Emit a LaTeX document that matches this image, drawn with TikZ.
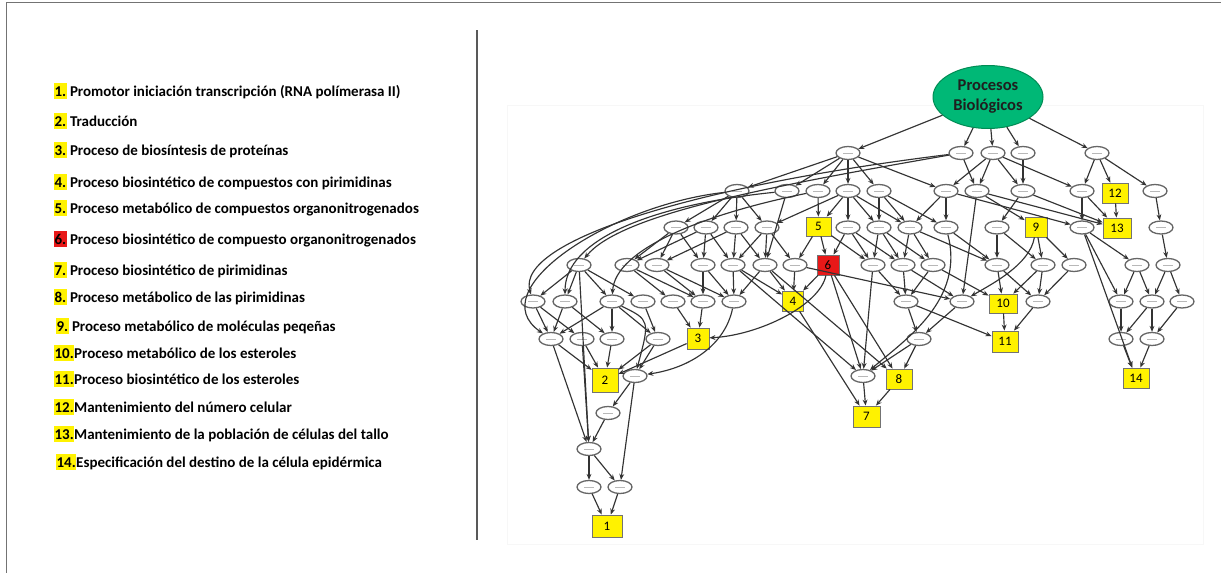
\documentclass[tikz,border=0pt]{standalone}
\usepackage{fontspec}
\setmainfont{Carlito}
\usetikzlibrary{shapes.geometric,arrows.meta}
\definecolor{rootfill}{RGB}{0,184,118}
\definecolor{rootline}{RGB}{0,140,84}
\definecolor{hlred}{RGB}{232,24,24}
\newcommand\hlnum[2][yellow]{{\setlength{\fboxsep}{0.4pt}\colorbox{#1}{\vphantom{Ép}#2}}}
\begin{document}
\begin{tikzpicture}[x=1pt,y=-1pt,
  leg/.style={anchor=base west,inner sep=0pt,font=\bfseries\fontsize{15}{17}\selectfont},
  gn/.style={ellipse,draw=black!60,line width=1.3pt,minimum width=24pt,minimum height=13pt,inner sep=0pt,
    path picture={\draw[black!28,line width=0.5pt]
      ([xshift=-5pt]path picture bounding box.center) -- ([xshift=5pt]path picture bounding box.center);}},
  yb/.style={rectangle,fill=yellow,draw=black!55,line width=0.8pt,inner sep=0pt,
    minimum width=25pt,minimum height=20pt,font=\fontsize{13}{14}\selectfont},
  rb/.style={yb,fill=hlred},
  edge/.style={draw=black!80,line width=1.15pt,-{Stealth[length=6pt,width=4.8pt]}}]
\useasboundingbox (0,0) rectangle (1221,573);
\fill[white] (0,0) rectangle (1221,573);
% frame and divider
\draw[black!55,line width=0.8pt] (6,573) -- (6,2) -- (1221,2);
\draw[black!65,line width=1.6pt] (477,30) -- (477,540);
\draw[black!3,line width=0.6pt] (507,105) rectangle (1203,544);

% legend
\node[leg] (l1)  at (54,96)  {\hlnum{1.} Promotor iniciación transcripción (RNA polímerasa II)};
\node[leg] (l2)  at (54,126) {\hlnum{2.} Traducción};
\node[leg] (l3)  at (54,155) {\hlnum{3.} Proceso de biosíntesis de proteínas};
\node[leg] (l4)  at (54,187) {\hlnum{4.} Proceso biosintético de compuestos con pirimidinas};
\node[leg] (l5)  at (54,213) {\hlnum{5.} Proceso metabólico de compuestos organonitrogenados};
\node[leg] (l6)  at (54,244) {\hlnum[hlred]{6.} Proceso biosintético de compuesto organonitrogenados};
\node[leg] (l7)  at (54,275) {\hlnum{7.} Proceso biosintético de pirimidinas};
\node[leg] (l8)  at (54,302) {\hlnum{8.} Proceso metábolico de las pirimidinas};
\node[leg] (l9)  at (56,331) {\hlnum{9.} Proceso metabólico de moléculas peqeñas};
\node[leg] (l10) at (54,358) {\hlnum{10.}Proceso metabólico de los esteroles};
\node[leg] (l11) at (54,384) {\hlnum{11.}Proceso biosintético de los esteroles};
\node[leg] (l12) at (54,412) {\hlnum{12.}Mantenimiento del número celular};
\node[leg] (l13) at (54,439) {\hlnum{13.}Mantenimiento de la población de células del tallo};
\node[leg] (l14) at (56,467) {\hlnum{14.}Especificación del destino de la célula epidérmica};

% root
\node[ellipse,fill=rootfill,draw=rootline,line width=1pt,minimum width=110pt,minimum height=63pt,
  align=center,inner sep=0pt,font=\bfseries\fontsize{16.5}{20}\selectfont,text=black!88] (root) at (988,97) {Procesos\\Biológicos};

% row 1
\node[gn] (a1) at (848,153) {};
\node[gn] (a2) at (961,153) {};
\node[gn] (a3) at (993,153) {};
\node[gn] (a4) at (1023,153) {};
\node[gn] (a5) at (1097,153) {};
% row 2
\node[gn] (b1) at (737,191) {};
\node[gn] (b2) at (787,191) {};
\node[gn] (b3) at (818,191) {};
\node[gn] (b4) at (848,191) {};
\node[gn] (b5) at (879,191) {};
\node[gn] (b6) at (946,191) {};
\node[gn] (b7) at (977,191) {};
\node[gn] (b8) at (1023,191) {};
\node[gn] (b9) at (1082,191) {};
\node[yb,minimum width=26pt] (n12) at (1115,193) {12};
\node[gn] (b10) at (1155,191) {};
% row 3
\node[gn] (c1) at (676,227.5) {};
\node[gn] (c2) at (706,227.5) {};
\node[gn] (c3) at (736,227.5) {};
\node[gn] (c4) at (767,227.5) {};
\node[yb,minimum height=19pt] (n5) at (818.5,226.5) {5};
\node[gn] (c5) at (848,227.5) {};
\node[gn] (c6) at (879,227.5) {};
\node[gn] (c7) at (910,227.5) {};
\node[gn] (c8) at (946,227.5) {};
\node[gn] (c9) at (997,227.5) {};
\node[yb,minimum width=22pt] (n9) at (1036,227) {9};
\node[gn] (c10) at (1082,227.5) {};
\node[yb,minimum width=28pt] (n13) at (1117,228) {13};
\node[gn] (c11) at (1161,227.5) {};
% row 4
\node[gn] (d1) at (579,265) {};
\node[gn] (d2) at (627,265) {};
\node[gn] (d3) at (657,265) {};
\node[gn] (d4) at (703,265) {};
\node[gn] (d5) at (733,265) {};
\node[gn] (d6) at (765,265) {};
\node[gn] (d7) at (795,265) {};
\node[rb,minimum width=22pt] (n6) at (828,265) {6};
\node[gn] (d8) at (873,265) {};
\node[gn] (d9) at (903,265) {};
\node[gn] (d10) at (933,265) {};
\node[gn] (d11) at (997,265) {};
\node[gn] (d12) at (1043,265) {};
\node[gn] (d13) at (1074,265) {};
\node[gn] (d14) at (1137,265) {};
\node[gn] (d15) at (1168,265) {};
% row 5
\node[gn] (e1) at (533,301.5) {};
\node[gn] (e2) at (565,301.5) {};
\node[gn] (e3) at (612,301.5) {};
\node[gn] (e4) at (643,301.5) {};
\node[gn] (e5) at (673,301.5) {};
\node[gn] (e6) at (703,301.5) {};
\node[gn] (e7) at (734,301.5) {};
\node[yb,minimum width=21pt] (n4) at (793,301) {4};
\node[gn] (e8) at (906,301.5) {};
\node[gn] (e9) at (962,301.5) {};
\node[yb,minimum width=28pt,minimum height=19pt] (n10) at (1003,303.5) {10};
\node[gn] (e10) at (1038,301.5) {};
\node[gn] (e11) at (1121,301.5) {};
\node[gn] (e12) at (1152,301.5) {};
\node[gn] (e13) at (1182,301.5) {};
% row 6
\node[gn] (f1) at (551,339) {};
\node[gn] (f2) at (582,339) {};
\node[gn] (f3) at (612,339) {};
\node[gn] (f4) at (658,339) {};
\node[yb,minimum width=22pt,minimum height=21pt] (n3) at (698,338.5) {3};
\node[gn] (f5) at (919,339) {};
\node[yb,minimum width=26pt,minimum height=21pt] (n11) at (1005,341.5) {11};
\node[gn] (f6) at (1121,339) {};
\node[gn] (f7) at (1152,339) {};
% row 7
\node[yb,minimum width=26pt,minimum height=24pt] (n2) at (605,380) {2};
\node[gn] (g1) at (635,376) {};
\node[gn] (g2) at (863,376) {};
\node[yb,minimum width=26pt] (n8) at (899,379) {8};
\node[yb,minimum width=26pt] (n14) at (1136,378) {14};
% lower rows
\node[gn] (h1) at (608,413) {};
\node[yb,minimum width=27pt,minimum height=21pt] (n7) at (866.5,416.5) {7};
\node[gn] (i1) at (589,449) {};
\node[gn] (j1) at (589,487) {};
\node[gn] (j2) at (620,487) {};
\node[yb,minimum width=30pt,minimum height=22pt] (n1) at (607,526) {1};

% straight connectors
\foreach \s/\t in {root/a1,root/a2,root/a3,root/a4,root/a5,
  a1/b1,a1/b2,a1/b3,a1/b4,a1/b5,a1/b6,
  a2/b7,a3/b6,a3/b7,a3/b8,a3/b9,a4/b8,a5/b9,a5/n12,a5/b10,
  b1/c1,b1/c2,b1/c3,b1/c4,b2/d6,b3/n5,
  b4/c4,b4/n5,b4/c5,b4/c6,b4/c7,b5/c6,b5/c7,b5/c8,
  b6/c7,b6/c8,b6/c10,b7/n9,b7/n13,b7/e9,b8/n13,b8/c9,b9/c10,b9/n13,n12/n13,b10/c11,
  c1/d2,c1/d3,c1/d4,c2/d4,c2/d5,c2/d2,c3/d5,c3/d6,c3/d3,c4/d6,c4/d7,c4/d5,
  n5/n6,n5/d7,n5/d8,c5/n6,c5/d8,c5/d9,c6/d8,c6/d9,c6/d10,c7/d9,c7/d10,c7/d11,
  c8/d11,c9/d11,c9/d12,n9/d12,n9/d13,c10/d14,c10/e11,c11/d15,
  d1/e1,d1/e2,d1/e3,d1/e4,d1/i1,d2/e5,d2/e6,d3/e6,d3/e7,d4/e6,d4/e7,
  d5/e7,d5/n4,d5/g2,d6/n4,d6/e7,d6/n8,d7/n4,d7/e9,n6/n4,n6/g2,n6/n8,
  d8/g2,d8/e8,d9/e8,d9/e9,d10/e8,d10/n10,d11/e10,d11/n10,d12/e10,d12/n10,d13/e10,
  d14/e11,d14/e12,d15/e12,d15/e13,
  e1/f2,e1/f1,e2/f1,e2/f3,e3/f1,e3/f3,e3/f4,e4/f4,e5/n3,e6/n3,n4/n7,
  e8/f5,e8/n11,e9/f5,n10/n11,e10/n11,e11/f6,e12/f6,e12/f7,e13/f7,
  f1/n2,f2/n2,f3/n2,f4/n2,n3/n2,f4/g1,f1/i1,f2/i1,
  f5/g2,f5/n8,f6/n14,f7/n14,c10/n14,
  g1/h1,g1/j2,g2/n7,n8/n7,h1/i1,i1/j1,i1/j2,j1/n1,j2/n1}
  \draw[edge] (\s) -- (\t);

% curved connectors
\draw[edge] (a2) .. controls (700,185) and (515,240) .. (e1);
\draw[edge] (a2) .. controls (760,188) and (620,215) .. (d1);
\draw[edge] (b1) .. controls (610,205) and (480,290) .. (f1);
\draw[edge] (b2) .. controls (650,205) and (565,240) .. (e2);
\draw[edge] (b3) .. controls (700,215) and (615,250) .. (e3);
\draw[edge] (n6) .. controls (820,305) and (760,335) .. (n3);
\draw[edge] (e3) .. controls (650,320) .. (g1);
\draw[edge] (e7) .. controls (725,345) and (690,368) .. (g1);
\draw[edge] (c8) .. controls (965,300) and (905,340) .. (g2);
\draw[edge] (n9) .. controls (1030,265) and (990,285) .. (e9);
\end{tikzpicture}
\end{document}
